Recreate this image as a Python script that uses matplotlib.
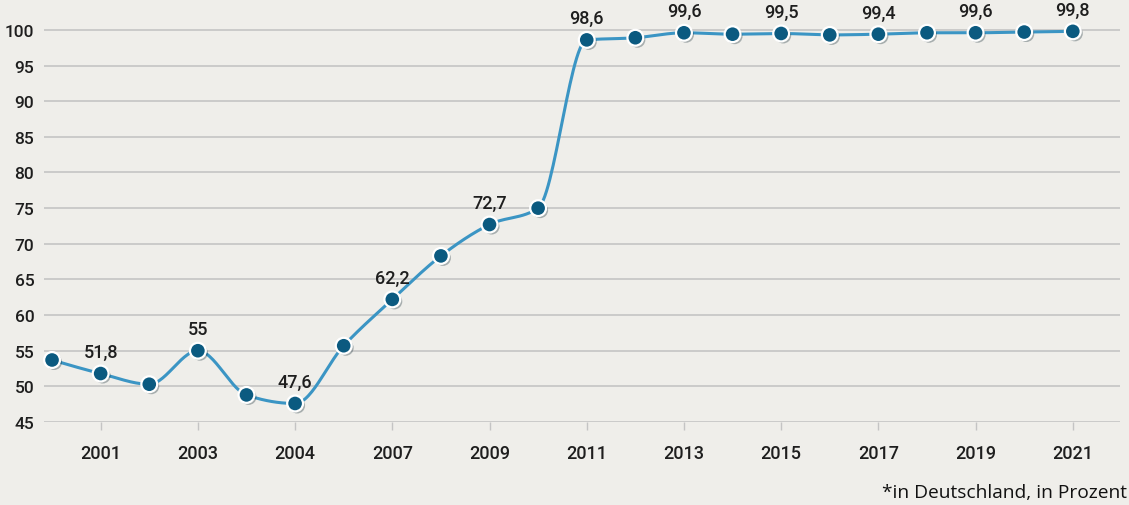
import numpy as np
import matplotlib.pyplot as plt
import matplotlib.patheffects as pe

# values (one point per year slot)
values = [53.7, 51.8, 50.3, 55.0, 48.8, 47.6, 55.7, 62.2, 68.3, 72.7, 75.0,
          98.6, 98.9, 99.6, 99.4, 99.5, 99.3, 99.4, 99.6, 99.6, 99.7, 99.8]
tick_labels = ['2001', '2003', '2004', '2007', '2009', '2011', '2013',
               '2015', '2017', '2019', '2021']
labelled = {1: '51,8', 3: '55', 5: '47,6', 7: '62,2', 9: '72,7', 11: '98,6',
            13: '99,6', 15: '99,5', 17: '99,4', 19: '99,6', 21: '99,8'}

bg = '#efeeea'
line_col = '#3b95c4'
dot_col = '#0b5a80'


def monotone_curve(x, y, n=30):
    # monotone cubic (Steffen), like d3 curveMonotoneX
    x = np.asarray(x, float)
    y = np.asarray(y, float)
    h = np.diff(x)
    s = np.diff(y) / h
    m = np.zeros(len(x))
    for i in range(1, len(x) - 1):
        p = (s[i - 1] * h[i] + s[i] * h[i - 1]) / (h[i - 1] + h[i])
        m[i] = (np.sign(s[i - 1]) + np.sign(s[i])) * min(abs(s[i - 1]), abs(s[i]), 0.5 * abs(p))
    m[0] = (3 * s[0] - m[1]) / 2
    m[-1] = (3 * s[-1] - m[-2]) / 2
    xs, ys = [], []
    t = np.linspace(0, 1, n)
    for i in range(len(x) - 1):
        h00 = 2 * t**3 - 3 * t**2 + 1
        h10 = t**3 - 2 * t**2 + t
        h01 = -2 * t**3 + 3 * t**2
        h11 = t**3 - t**2
        xs.append(x[i] + t * h[i])
        ys.append(h00 * y[i] + h10 * h[i] * m[i] + h01 * y[i + 1] + h11 * h[i] * m[i + 1])
    return np.concatenate(xs), np.concatenate(ys)


x = np.arange(len(values))
sx, sy = monotone_curve(x, values)

fig = plt.figure(figsize=(11.29, 5.06), dpi=100, facecolor=bg)
ax = fig.add_axes([0.039, 0.164, 0.953, 0.789], facecolor=bg)

ax.set_xlim(-0.165, 21.97)
ax.set_ylim(45, 101)
ax.set_yticks(range(45, 101, 5))
ax.grid(axis='y', color='#c4c4c4', linewidth=1.2)
ax.set_axisbelow(True)
for s in ax.spines.values():
    s.set_visible(False)

ax.set_xticks(range(1, 22, 2))
ax.set_xticklabels(tick_labels)
ax.tick_params(axis='x', length=6, width=1, color='#c4c4c4', pad=10,
               labelsize=13, labelcolor='#1e1e1e')
ax.tick_params(axis='y', length=0, pad=7, labelsize=12.5, labelcolor='#1e1e1e')
for lab in ax.get_xticklabels() + ax.get_yticklabels():
    lab.set_fontfamily(['Roboto', 'DejaVu Sans'])
    lab.set_fontweight('medium')

ax.plot(sx, sy, color=line_col, linewidth=2.2, zorder=3, clip_on=False)
ax.scatter(x, values, s=130, color=dot_col, edgecolor='white', linewidth=1.6,
           zorder=4, clip_on=False,
           path_effects=[pe.SimplePatchShadow(offset=(1.5, -1.5), alpha=0.3),
                         pe.Normal()])

for i, txt in labelled.items():
    ax.annotate(txt, (i, values[i]), xytext=(0, 9), textcoords='offset points',
                ha='center', va='bottom', fontsize=13, color='#1e1e1e',
                family=['Roboto', 'DejaVu Sans'], fontweight='medium', zorder=5)

fig.text(0.998, 0.008, '*in Deutschland, in Prozent', ha='right', va='bottom',
         fontsize=13.8, color='#111111', family=['Open Sans', 'DejaVu Sans'])

fig.savefig('out.png', dpi=100, facecolor=bg)
